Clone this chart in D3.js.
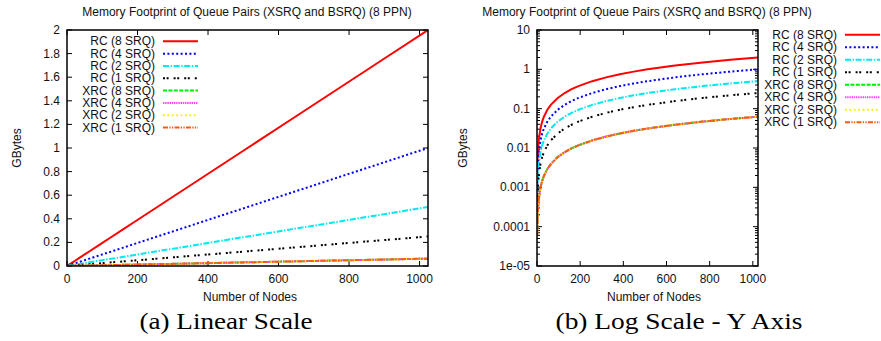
<!DOCTYPE html>
<html>
<head>
<meta charset="utf-8">
<script src="https://cdn.jsdelivr.net/npm/d3@7"></script>
<style>
  body { margin: 0; background: #fff; }
  svg text { font-family: "Liberation Sans", Arial, Helvetica, sans-serif; fill: #111; }
  svg text.caption { font-family: "Liberation Serif", "Times New Roman", Times, serif; fill: #000; }
</style>
</head>
<body>
<svg id="chart" width="881" height="341"></svg>
<script>
// node counts and memory (GBytes) per series
const nodes = [1, 2, 4, 8, 16, 24, 32, 48, 64, 96, 128, 160, 192, 256, 320, 384, 448, 512, 640, 768, 896, 1024];
const rc8  = [0.00195, 0.0039, 0.0078, 0.0156, 0.03125, 0.0469, 0.0625, 0.094, 0.125, 0.1875, 0.25, 0.3125, 0.375, 0.5, 0.625, 0.75, 0.875, 1.0, 1.25, 1.5, 1.75, 2.0];
const rc4  = [0.00098, 0.00195, 0.0039, 0.0078, 0.0156, 0.0234, 0.03125, 0.0469, 0.0625, 0.094, 0.125, 0.156, 0.1875, 0.25, 0.3125, 0.375, 0.4375, 0.5, 0.625, 0.75, 0.875, 1.0];
const rc2  = [0.00049, 0.00098, 0.00195, 0.0039, 0.0078, 0.0117, 0.0156, 0.0234, 0.03125, 0.0469, 0.0625, 0.078, 0.094, 0.125, 0.156, 0.1875, 0.219, 0.25, 0.3125, 0.375, 0.4375, 0.5];
const rc1  = [0.000244, 0.00049, 0.00098, 0.00195, 0.0039, 0.0059, 0.0078, 0.0117, 0.0156, 0.0234, 0.03125, 0.039, 0.0469, 0.0625, 0.078, 0.094, 0.109, 0.125, 0.156, 0.1875, 0.219, 0.25];
const xrc8 = [0.000061, 0.000122, 0.000244, 0.00049, 0.00098, 0.00146, 0.00195, 0.0029, 0.0039, 0.0059, 0.0078, 0.0098, 0.0117, 0.0156, 0.0195, 0.0234, 0.0273, 0.03125, 0.039, 0.0469, 0.0547, 0.0625];
const xrc4 = [0.000061, 0.000122, 0.000244, 0.00049, 0.00098, 0.00146, 0.00195, 0.0029, 0.0039, 0.0059, 0.0078, 0.0098, 0.0117, 0.0156, 0.0195, 0.0234, 0.0273, 0.03125, 0.039, 0.0469, 0.0547, 0.0625];
const xrc2 = [0.000061, 0.000122, 0.000244, 0.00049, 0.00098, 0.00146, 0.00195, 0.0029, 0.0039, 0.0059, 0.0078, 0.0098, 0.0117, 0.0156, 0.0195, 0.0234, 0.0273, 0.03125, 0.039, 0.0469, 0.0547, 0.0625];
const xrc1 = [0.000061, 0.000122, 0.000244, 0.00049, 0.00098, 0.00146, 0.00195, 0.0029, 0.0039, 0.0059, 0.0078, 0.0098, 0.0117, 0.0156, 0.0195, 0.0234, 0.0273, 0.03125, 0.039, 0.0469, 0.0547, 0.0625];

const seriesNames = ['RC (8 SRQ)', 'RC (4 SRQ)', 'RC (2 SRQ)', 'RC (1 SRQ)', 'XRC (8 SRQ)', 'XRC (4 SRQ)', 'XRC (2 SRQ)', 'XRC (1 SRQ)'];
const seriesValues = [rc8, rc4, rc2, rc1, xrc8, xrc4, xrc2, xrc1];
const seriesColors = ['#ff0000', '#0000ff', '#00e8f0', '#000000', '#00ee00', '#ff40ff', '#f8f000', '#ff5a10'];
const seriesDash = ['none', '2,2.4', '6,1.6,1.4,1.6', '2,1.6,2,5', '4,1.4', '1.4,0.8', '1.8,2.6', '5,1.3,1.3,1.3,1.3,1.3'];

const xTicks = [0, 200, 400, 600, 800, 1000];
const yTicksLinear = [0, 0.2, 0.4, 0.6, 0.8, 1, 1.2, 1.4, 1.6, 1.8, 2];
const yTicksLog = [1e-5, 1e-4, 1e-3, 1e-2, 0.1, 1, 10];
const yTickLogLabels = ['1e-05', '0.0001', '0.001', '0.01', '0.1', '1', '10'];

const title = 'Memory Footprint of Queue Pairs (XSRQ and BSRQ) (8 PPN)';
const captions = ['(a) Linear Scale', '(b) Log Scale - Y Axis'];

const svg = d3.select('#chart');

const panels = [
  { x0: 67, x1: 428, y0: 30, y1: 266, log: false, cx: 250, cap: 226, capW: 173, ylab: 17,
    legX: 155, legY: 41.3, legStep: 12.33, titleCx: 247 },
  { x0: 537, x1: 758, y0: 30, y1: 266, log: true, cx: 654, cap: 679, capW: 247, ylab: 463,
    legX: 837, legY: 34.7, legStep: 12.5, titleCx: 647 }
];

panels.forEach((p, pi) => {
  const g = svg.append('g');
  const x = d3.scaleLinear().domain([0, 1024]).range([p.x0, p.x1]);
  const y = p.log
    ? d3.scaleLog().domain([1e-5, 10]).range([p.y1, p.y0])
    : d3.scaleLinear().domain([0, 2]).range([p.y1, p.y0]);

  const clipId = 'clip' + pi;
  g.append('clipPath').attr('id', clipId)
    .append('rect')
    .attr('x', p.x0).attr('y', p.y0)
    .attr('width', p.x1 - p.x0).attr('height', p.y1 - p.y0);

  // title
  g.append('text')
    .attr('x', p.titleCx).attr('y', 16)
    .attr('text-anchor', 'middle')
    .style('font-size', '12px')
    .text(title);

  // ticks, mirrored inward on all sides
  const tk = g.append('g').attr('stroke', '#000').attr('stroke-width', 1);
  xTicks.forEach(t => {
    tk.append('line').attr('x1', x(t)).attr('x2', x(t)).attr('y1', p.y1).attr('y2', p.y1 - 5);
    tk.append('line').attr('x1', x(t)).attr('x2', x(t)).attr('y1', p.y0).attr('y2', p.y0 + 5);
    g.append('text')
      .attr('x', x(t)).attr('y', p.y1 + 17)
      .attr('text-anchor', 'middle')
      .style('font-size', '12px')
      .text(t);
  });

  const yt = p.log ? yTicksLog : yTicksLinear;
  yt.forEach((t, i) => {
    tk.append('line').attr('x1', p.x0).attr('x2', p.x0 + 5).attr('y1', y(t)).attr('y2', y(t));
    tk.append('line').attr('x1', p.x1).attr('x2', p.x1 - 5).attr('y1', y(t)).attr('y2', y(t));
    g.append('text')
      .attr('x', p.x0 - 7).attr('y', y(t) + 4)
      .attr('text-anchor', 'end')
      .style('font-size', '12px')
      .text(p.log ? yTickLogLabels[i] : d3.format('~g')(t));
  });

  if (p.log) {
    yTicksLog.slice(0, -1).forEach(d => {
      [2, 3, 4, 5, 6, 7, 8, 9].forEach(m => {
        const v = d * m;
        tk.append('line').attr('x1', p.x0).attr('x2', p.x0 + 3).attr('y1', y(v)).attr('y2', y(v));
        tk.append('line').attr('x1', p.x1).attr('x2', p.x1 - 3).attr('y1', y(v)).attr('y2', y(v));
      });
    });
  }

  // axis titles
  g.append('text')
    .attr('x', p.cx).attr('y', p.y1 + 35)
    .attr('text-anchor', 'middle')
    .style('font-size', '12px')
    .text('Number of Nodes');
  g.append('text')
    .attr('transform', `translate(${p.ylab + 4},${(p.y0 + p.y1) / 2}) rotate(-90)`)
    .attr('text-anchor', 'middle')
    .style('font-size', '12px')
    .text('GBytes');

  // series
  const line = d3.line()
    .x((d, i) => x(nodes[i]))
    .y(d => y(d));
  const lg = g.append('g').attr('clip-path', `url(#${clipId})`);
  seriesValues.forEach((vals, si) => {
    lg.append('path')
      .datum(vals)
      .attr('d', line)
      .attr('fill', 'none')
      .attr('stroke', seriesColors[si])
      .attr('stroke-width', 2)
      .attr('stroke-dasharray', seriesDash[si]);
  });

  // legend
  seriesNames.forEach((name, si) => {
    const ly = p.legY + si * p.legStep;
    g.append('text')
      .attr('x', p.legX).attr('y', ly + 4)
      .attr('text-anchor', 'end')
      .style('font-size', '12px')
      .text(name);
    g.append('line')
      .attr('x1', p.legX + 8).attr('x2', p.legX + 43)
      .attr('y1', ly).attr('y2', ly)
      .attr('stroke', seriesColors[si])
      .attr('stroke-width', 2)
      .attr('stroke-dasharray', seriesDash[si]);
  });

  // border
  g.append('rect')
    .attr('x', p.x0).attr('y', p.y0)
    .attr('width', p.x1 - p.x0).attr('height', p.y1 - p.y0)
    .attr('fill', 'none')
    .attr('stroke', '#000')
    .attr('stroke-width', 1.5);

  // caption
  g.append('text')
    .attr('class', 'caption')
    .attr('x', p.cap - p.capW / 2).attr('y', 329)
    .attr('textLength', p.capW)
    .attr('lengthAdjust', 'spacingAndGlyphs')
    .style('font-size', '23px')
    .text(captions[pi]);
});
</script>
</body>
</html>
